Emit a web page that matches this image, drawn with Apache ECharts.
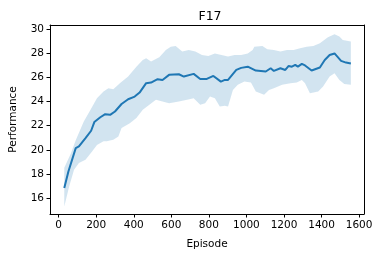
<!DOCTYPE html>
<html><head><meta charset="utf-8">
<script src="https://cdn.jsdelivr.net/npm/echarts@6/dist/echarts.min.js"></script>
<style>html,body{margin:0;padding:0;background:#fff}#c{width:382px;height:258px}</style>
</head><body><div id="c"></div>
<script>
var lineEp = [30,52,91,108,143,173,190,222,248,274,300,335,370,405,431,466,492,527,553,588,640,667,719,754,789,824,864,885,902,946,972,1007,1050,1077,1103,1129,1146,1181,1207,1225,1242,1260,1274,1295,1312,1347,1391,1417,1443,1469,1504,1530,1556];
var lineVal = [16.83,18.2,20.14,20.28,20.97,21.58,22.3,22.7,22.96,22.9,23.18,23.8,24.2,24.42,24.75,25.53,25.58,25.86,25.8,26.22,26.27,26.08,26.3,25.88,25.88,26.13,25.66,25.8,25.8,26.63,26.8,26.9,26.58,26.55,26.5,26.77,26.55,26.77,26.63,26.96,26.9,27.05,26.9,27.13,27.0,26.58,26.83,27.46,27.87,28.0,27.38,27.24,27.16];
var upperEp = [30,65,91,134,169,204,239,265,291,326,370,414,448,466,492,536,571,597,623,658,693,728,763,797,832,867,902,937,972,1007,1033,1042,1085,1111,1146,1181,1216,1251,1286,1321,1356,1391,1434,1469,1495,1513,1556];
var upperVal = [18.5,19.7,20.8,22.35,23.3,24.28,24.84,25.1,25.03,25.53,26.08,26.9,27.46,27.6,27.32,27.68,28.29,28.56,28.62,28.15,28.29,28.15,27.87,27.79,28.0,27.87,27.74,27.87,27.87,28.0,28.29,28.56,28.62,28.34,28.29,28.15,28.29,28.29,28.43,28.56,28.62,28.84,29.34,29.6,29.4,29.12,28.98];
var lowerEp = [30,56,82,108,143,178,204,239,256,291,318,335,379,414,448,483,518,553,588,640,684,719,754,780,806,832,858,885,902,928,954,989,1024,1050,1094,1120,1146,1190,1234,1268,1295,1312,1338,1382,1408,1443,1469,1495,1521,1556];
var lowerVal = [15.3,16.96,18.35,18.9,19.17,19.86,20.4,20.7,20.7,20.83,21.1,21.8,22.21,22.63,23.32,23.73,24.15,24.0,23.87,24.0,24.15,24.28,23.73,23.87,24.42,24.28,23.6,23.65,23.6,24.97,25.39,25.66,25.58,24.84,24.56,24.97,25.11,25.39,25.53,25.58,25.8,25.53,24.7,24.84,25.25,26.08,26.35,25.8,25.47,25.39];
var xTicks = [0,200,400,600,800,1000,1200,1400,1600];
var yTicks = [16,18,20,22,24,26,28,30];

var chart = echarts.init(document.getElementById('c'), null, {renderer:'canvas'});
var font = 'DejaVu Sans';
var fs = 10.5;
var lineData = lineEp.map(function(e,i){return [e,lineVal[i]];});
var XMIN=-46, XMAX=1626, YMIN=14.67, YMAX=30.36;
var frameLine = {show:true,onZero:false,lineStyle:{color:'#000',width:1}};
function plain(v){return String(v);}
chart.setOption({
  animation:false,
  title:{text:'F17',left:205,top:5,textAlign:'center',textStyle:{fontFamily:font,fontSize:12.5,fontWeight:'normal',color:'#000'}},
  grid:{left:46,right:18,top:25,bottom:44},
  xAxis:[{type:'value',min:XMIN,max:XMAX,name:'Episode',nameLocation:'middle',nameGap:25,
    nameTextStyle:{fontFamily:font,fontSize:fs,color:'#000'},
    splitLine:{show:false},axisLine:frameLine,
    axisTick:{show:true,length:3.5,lineStyle:{color:'#000',width:1},customValues:xTicks},
    axisLabel:{fontFamily:font,fontSize:fs,color:'#000',margin:6,customValues:xTicks,formatter:plain}},
    {type:'value',position:'top',min:XMIN,max:XMAX,axisLine:frameLine,axisTick:{show:false},axisLabel:{show:false},splitLine:{show:false}}],
  yAxis:[{type:'value',min:YMIN,max:YMAX,name:'Performance',nameLocation:'middle',nameGap:31,
    nameTextStyle:{fontFamily:font,fontSize:fs,color:'#000'},
    splitLine:{show:false},axisLine:frameLine,
    axisTick:{show:true,length:3.5,lineStyle:{color:'#000',width:1},customValues:yTicks},
    axisLabel:{fontFamily:font,fontSize:fs,color:'#000',margin:6,customValues:yTicks,formatter:plain}},
    {type:'value',position:'right',min:YMIN,max:YMAX,axisLine:frameLine,axisTick:{show:false},axisLabel:{show:false},splitLine:{show:false}}],
  series:[
    {type:'custom',data:[[0,0]],silent:true,clip:true,z:1,
     renderItem:function(params,api){
       var pts=[];
       for(var i=0;i<upperEp.length;i++) pts.push(api.coord([upperEp[i],upperVal[i]]));
       for(var j=lowerEp.length-1;j>=0;j--) pts.push(api.coord([lowerEp[j],lowerVal[j]]));
       return {type:'polygon',shape:{points:pts},style:{fill:'rgba(31,119,180,0.2)',stroke:null}};
     }},
    {type:'line',data:lineData,showSymbol:false,symbol:'none',z:3,
     lineStyle:{color:'#1f77b4',width:2}}
  ]
});
</script></body></html>
